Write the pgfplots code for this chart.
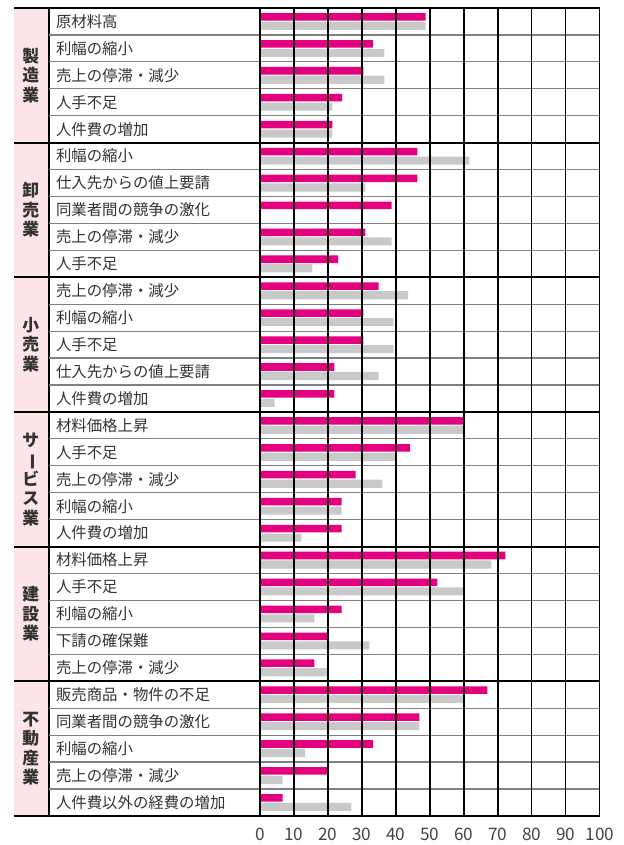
\documentclass[border=0pt]{standalone}
\usepackage{fontspec}
\setmainfont{Noto Sans CJK JP}
\usepackage{graphicx}
\usepackage{pgfplots}
\usepackage{pgfplotstable}
\pgfplotsset{compat=1.18}
\definecolor{bpink}{HTML}{E4007F}
\definecolor{bgray}{HTML}{C9C9C9}
\definecolor{bgpink}{HTML}{FCE4E8}
\definecolor{txt}{HTML}{333333}
\definecolor{ticktxt}{HTML}{444444}
\definecolor{rowline}{HTML}{808080}

\pgfplotstableread{
idx pink gray
0  48.7 48.7
1  33.3 36.6
2  30.4 36.6
3  24.2 21.3
4  21.3 21.3
5  46.3 61.6
6  46.3 31.0
7  38.7 0
8  31.0 38.7
9  23.0 15.4
10 34.9 43.6
11 30.4 39.3
12 30.4 39.3
13 21.9 34.9
14 21.9 4.3
15 60.1 60.1
16 44.2 40.0
17 28.1 36.0
18 24.0 24.0
19 24.0 12.2
20 72.2 68.1
21 52.2 60.1
22 24.0 16.0
23 20.0 32.2
24 16.0 20.0
25 66.9 60.1
26 46.9 46.9
27 33.3 13.3
28 20.0 6.7
29 6.7 26.9
}\datatable

\begin{document}
\begin{tikzpicture}
\begin{axis}[
  scale only axis, width=170pt, height=404pt,
  xmin=0, xmax=100, ymin=0, ymax=30, y dir=reverse,
  clip=false, axis on top,
  axis line style={draw=none},
  xtick={0,10,...,100}, major tick length=0pt,
  xmajorgrids, major grid style={black, line width=0.55pt},
  xticklabel style={font=\fontsize{8.6}{9}\selectfont, text=ticktxt, yshift=-2.5pt},
  /pgf/number format/assume math mode=true,
  ytick={0.5,1.5,...,29.5},
  yticklabels={原材料高,利幅の縮小,売上の停滞・減少,人手不足,人件費の増加,
    利幅の縮小,仕入先からの値上要請,同業者間の競争の激化,売上の停滞・減少,人手不足,
    売上の停滞・減少,利幅の縮小,人手不足,仕入先からの値上要請,人件費の増加,
    材料価格上昇,人手不足,売上の停滞・減少,利幅の縮小,人件費の増加,
    材料価格上昇,人手不足,利幅の縮小,下請の確保難,売上の停滞・減少,
    販売商品・物件の不足,同業者間の競争の激化,利幅の縮小,売上の停滞・減少,人件費以外の経費の増加},
  yticklabel style={anchor=west, xshift=-105.5pt, font=\fontsize{7.7}{8}\selectfont, text=txt},
]
% left background column
\fill[bgpink] (axis cs:-72.35,0) rectangle (axis cs:-62.06,30);
\draw[black, line width=0.6pt] (axis cs:-62.06,0) -- (axis cs:-62.06,30);

\addplot[xbar, bar width=0.28, bar shift=0pt, fill=bpink, draw=none]
  table[x=pink, y expr=\thisrow{idx}+0.33] {\datatable};
\addplot[xbar, bar width=0.30, bar shift=0pt, fill=bgray, draw=none]
  table[x=gray, y expr=\thisrow{idx}+0.665] {\datatable};

% row lines
\pgfplotsinvokeforeach{1,2,3,4,6,7,8,9,11,12,13,14,16,17,18,19,21,22,23,24,26,27,28,29}{
  \draw[rowline, line width=0.6pt] (axis cs:-62.06,#1) -- (axis cs:100,#1);
}
% group lines
\pgfplotsinvokeforeach{0,5,10,15,20,25,30}{
  \draw[black, line width=1.1pt] (axis cs:-72.35,#1) -- (axis cs:100,#1);
}
% industry labels
\tikzset{ind/.style={align=center, font=\bfseries\fontsize{8.4}{9.8}\selectfont, text=txt, inner sep=0pt}}
\node[ind] at (axis cs:-67.4,2.5) {製\\造\\業};
\node[ind] at (axis cs:-67.4,7.5) {卸\\売\\業};
\node[ind] at (axis cs:-67.4,12.5) {小\\売\\業};
\node[ind] at (axis cs:-67.4,17.5) {サ\\\rotatebox[origin=c]{-90}{ー}\\ビ\\ス\\業};
\node[ind] at (axis cs:-67.4,22.5) {建\\設\\業};
\node[ind] at (axis cs:-67.4,27.5) {不\\動\\産\\業};

\coordinate (bbsw) at (axis cs:-76.47,31.08);
\coordinate (bbne) at (axis cs:107.06,-0.297);
\end{axis}
\pgfresetboundingbox
\path[use as bounding box] (bbsw) rectangle (bbne);
\end{tikzpicture}
\end{document}
